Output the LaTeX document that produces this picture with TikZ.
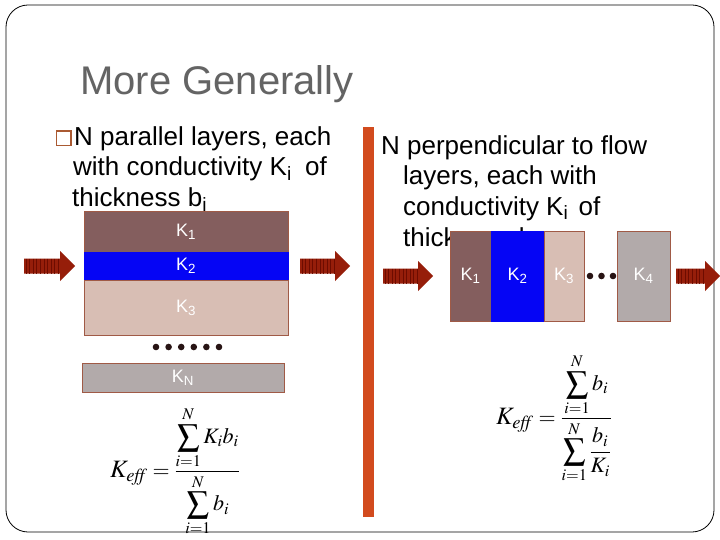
\documentclass[tikz,border=0pt]{standalone}
\usepackage{amsmath}
\usepackage{mathptmx}
\usepackage[no-math]{fontspec}
\setmainfont{Liberation Sans}
\definecolor{titlegray}{RGB}{100,100,100}
\definecolor{kone}{RGB}{132,94,94}
\definecolor{ktwo}{RGB}{5,5,245}
\definecolor{kthree}{RGB}{216,190,180}
\definecolor{kgray}{RGB}{178,170,170}
\definecolor{layeredge}{RGB}{160,90,70}
\definecolor{arrowfill}{RGB}{150,30,10}
\definecolor{arrowstripe}{RGB}{110,12,0}
\definecolor{barorange}{RGB}{210,75,30}
\definecolor{bulletcol}{RGB}{170,90,50}
\definecolor{dotcol}{RGB}{40,20,20}
\newcommand\stripedarrow[4]{%
  \fill[arrowfill] (#1,{#2-7.5}) -- ({#1+#3},{#2-7.5}) -- ({#1+#3},{#2-15}) -- ({#1+#3+#4},#2) -- ({#1+#3},{#2+15}) -- ({#1+#3},{#2+7.5}) -- (#1,{#2+7.5}) -- cycle;
  \foreach \sx in {2,5.6,...,#3} \draw[arrowstripe, line width=0.9pt] ({#1+\sx},{#2-7.5}) -- ({#1+\sx},{#2+7.5});
}
\newcommand\dsum{\displaystyle\sum\limits}
\newcommand\keffsym{\mbox{\fontsize{25}{28}\selectfont$K_{\mathit{eff}}$}}
\begin{document}
\begin{tikzpicture}[x=1pt,y=-1pt,
  bodytext/.style={anchor=base west, inner sep=0, font=\fontsize{26}{30}\selectfont},
  layer/.style={draw=layeredge, line width=0.6pt, inner sep=0, text=white, font=\fontsize{18}{20}\selectfont},
  formula/.style={anchor=base west, inner sep=0, font=\fontsize{22}{26}\selectfont},
  dotmark/.style={fill=dotcol}]
\fill[white] (0,0) rectangle (720,540);
\useasboundingbox (0,0) rectangle (720,540);
\draw[line width=0.8pt, rounded corners=22pt] (6,5) rectangle (714,532);
% title
\node[anchor=base west, inner sep=0, text=titlegray, font=\fontsize{40}{44}\selectfont] (title) at (80,95) {More Generally};
% orange divider
\fill[barorange] (363,127) rectangle (374,517);
% left text
\draw[bulletcol, line width=1.2pt] (56.5,131) rectangle (71,145.5);
\node[bodytext] (lt1) at (74,146) {N parallel layers, each};
\node[bodytext] (lt2) at (73,176) {with conductivity K\textsubscript{i}\hspace{6pt} of};
\node[bodytext] (lt3) at (72,207) {thickness b\textsubscript{i}};
% right text
\node[bodytext] (rt1) at (381,155) {N perpendicular to flow};
\node[bodytext] (rt2) at (403,185) {layers, each with};
\node[bodytext] (rt3) at (403,215) {conductivity K\textsubscript{i}\hspace{3pt} of};
\node[bodytext] (rt4) at (403,246) {thickness b\textsubscript{i}};
% left layers
\node[layer, fill=kone, minimum width=204pt, minimum height=41pt] (L1) at (186,231.5) {K\textsubscript{1}};
\node[layer, fill=ktwo, draw=ktwo, minimum width=204pt, minimum height=28pt] (L2) at (186,266) {K\textsubscript{2}};
\node[layer, fill=kthree, minimum width=204pt, minimum height=55pt] (L3) at (186,307.5) {K\textsubscript{3}};
\foreach \dx in {156,168.6,181.2,193.8,206.4,219} \fill[dotmark] (\dx,347) circle (3.3pt);
\node[layer, fill=kgray, minimum width=202pt, minimum height=29pt] (LN) at (183,377.5) {K\textsubscript{N}};
% right layers
\node[layer, fill=kone, minimum width=41pt, minimum height=90pt] (R1) at (470.5,276) {K\textsubscript{1}};
\node[layer, fill=ktwo, draw=ktwo, minimum width=53pt, minimum height=90pt] (R2) at (517.5,276) {K\textsubscript{2}};
\node[layer, fill=kthree, minimum width=40pt, minimum height=90pt] (R3) at (564,276) {K\textsubscript{3}};
\foreach \dx in {590,601.5,613} \fill[dotmark] (\dx,276) circle (3.3pt);
\node[layer, fill=kgray, minimum width=53pt, minimum height=90pt] (R4) at (643.5,276) {K\textsubscript{4}};
% arrows
\stripedarrow{24}{266}{36}{15}
\stripedarrow{300}{266}{35}{15}
\stripedarrow{383}{276}{35}{15}
\stripedarrow{676}{276}{29}{15}
% formulas
\node[formula] (f1) at (110,477) {$\keffsym = \dfrac{\dsum_{i=1}^{N} K_i b_i}{\dsum_{i=1}^{N} b_i}$};
\node[formula] (f2) at (496,424) {$\keffsym = \dfrac{\dsum_{i=1}^{N} b_i}{\dsum_{i=1}^{N} \dfrac{b_i}{K_i}}$};
\end{tikzpicture}
\end{document}
